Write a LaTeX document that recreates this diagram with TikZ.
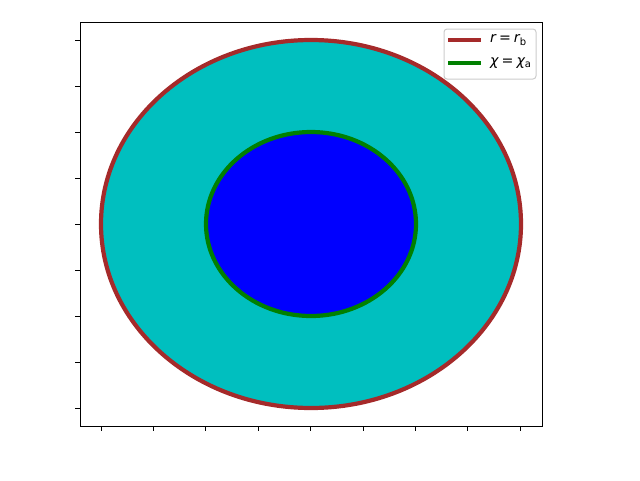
\documentclass[tikz,border=0pt]{standalone}
\usepackage{fontspec}
\setmainfont{DejaVu Sans}
\definecolor{mbrown}{HTML}{A52A2A}
\definecolor{mgreen}{HTML}{008000}
\definecolor{mcyan}{HTML}{00BFBF}
\definecolor{mblue}{HTML}{0000FF}
\newcommand{\eqsp}{\hspace{3pt}=\hspace{3pt}}
\begin{document}
\begin{tikzpicture}[x=1pt,y=-1pt,
  tick/.style={line width=1pt,black},
  leg/.style={anchor=west,inner sep=0pt,font=\fontsize{14.2}{16}\selectfont},
  legline/.style={line width=4.2pt}]
\useasboundingbox (0,0) rectangle (640,480);
% outer ellipse
\fill[mcyan] (311,224) ellipse [x radius=210, y radius=184];
\draw[mbrown,line width=4.2pt] (311,224) ellipse [x radius=210, y radius=184];
% inner ellipse
\fill[mblue] (311,224) ellipse [x radius=105, y radius=92];
\draw[mgreen,line width=4.2pt] (311,224) ellipse [x radius=105, y radius=92];
% axes frame
\draw[line width=1pt,line join=miter] (80,22) rectangle (542,426);
% ticks
\foreach \i in {0,...,8}{
  \draw[tick] ({101+\i*52.4},426) -- ++(0,4.9);
  \draw[tick] (80,{40+\i*46}) -- ++(-4.9,0);
}
% legend
\draw[draw=black!20,fill=white,fill opacity=0.8,rounded corners=3pt,line width=1pt] (444,29) rectangle (536,79);
\coordinate (la1) at (448,40);
\coordinate (lb1) at (481,40);
\coordinate (la2) at (448,63);
\coordinate (lb2) at (481,63);
\draw[legline,mbrown] (la1) -- (lb1);
\draw[legline,mgreen] (la2) -- (lb2);
\node[leg] (t1) at (490,40) {\itshape r\upshape\eqsp\itshape r\upshape\raisebox{-0.3ex}{\fontsize{10}{10}\selectfont b}};
\node[leg] (t2) at (490,63) {\itshape χ\upshape\eqsp\itshape χ\upshape\raisebox{-0.3ex}{\fontsize{10}{10}\selectfont a}};
\end{tikzpicture}
\end{document}
